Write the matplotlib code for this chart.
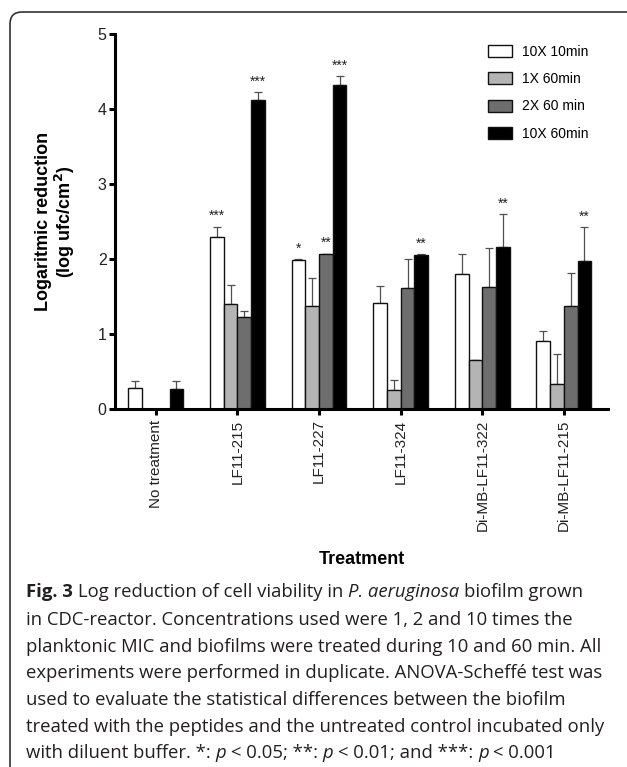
import numpy as np
import matplotlib
matplotlib.use('Agg')
import matplotlib.pyplot as plt
from matplotlib.patches import FancyBboxPatch

# data (log ufc/cm2), mean and upper sd
treatments = ['No treatment', 'LF11-215', 'LF11-227', 'LF11-324',
              'Di-MB-LF11-322', 'Di-MB-LF11-215']
series_names = ['10X 10min', '1X 60min', '2X 60 min', '10X 60min']

mean_10x10 = [0.28, 2.29, 1.99, 1.41, 1.80, 0.91]
sd_10x10 = [0.10, 0.14, 0.01, 0.23, 0.27, 0.13]
mean_1x60 = [np.nan, 1.40, 1.38, 0.26, 0.65, 0.33]
sd_1x60 = [np.nan, 0.25, 0.37, 0.13, 0.01, 0.41]
mean_2x60 = [np.nan, 1.23, 2.07, 1.61, 1.62, 1.37]
sd_2x60 = [np.nan, 0.07, 0.00, 0.39, 0.52, 0.44]
mean_10x60 = [0.27, 4.12, 4.32, 2.05, 2.16, 1.97]
sd_10x60 = [0.11, 0.10, 0.12, 0.01, 0.44, 0.45]

stars_10x10 = ['', '***', '*', '', '', '']
stars_1x60 = ['', '', '', '', '', '']
stars_2x60 = ['', '', '**', '', '', '']
stars_10x60 = ['', '***', '***', '**', '**', '**']

means = [mean_10x10, mean_1x60, mean_2x60, mean_10x60]
sds = [sd_10x10, sd_1x60, sd_2x60, sd_10x60]
stars = [stars_10x10, stars_1x60, stars_2x60, stars_10x60]
colors = ['white', '#b4b4b4', '#6e6e6e', 'black']

plt.rcParams['font.family'] = ['Liberation Sans', 'DejaVu Sans']

W, H = 627, 767
fig = plt.figure(figsize=(W / 100, H / 100), dpi=100)
ax = fig.add_axes([115 / W, 1 - 409 / H, (608 - 115) / W, (409 - 34) / H])

x = np.arange(len(treatments))
w = 0.168
for i in range(4):
    pos = x + (i - 1.5) * w
    m = np.array(means[i], dtype=float)
    s = np.array(sds[i], dtype=float)
    ok = np.isfinite(m)
    ax.bar(pos[ok], m[ok], width=w, color=colors[i], edgecolor='#111111',
           linewidth=1.0, label=series_names[i], zorder=2)
    ax.errorbar(pos[ok], m[ok], yerr=[np.zeros(ok.sum()), s[ok]], fmt='none',
                ecolor='#505050', elinewidth=0.9, capsize=3, capthick=0.9,
                zorder=1)
    for j in range(len(treatments)):
        if stars[i][j]:
            ax.annotate(stars[i][j], (pos[j], m[j] + s[j]), xytext=(0, 2.5),
                        textcoords='offset points', ha='center', va='bottom',
                        fontsize=10, color='#222222')

ax.set_xlim(-0.5, 5.54)
ax.set_ylim(0, 5)
ax.set_yticks([0, 1, 2, 3, 4, 5])
ax.set_xticks(x)
ax.set_xticklabels(treatments, rotation=90, fontsize=11, color='#222222')
ax.tick_params(axis='y', labelsize=11.5, labelcolor='#222222', pad=2)
ax.tick_params(width=2.2, length=4, direction='out')
for side in ['top', 'right']:
    ax.spines[side].set_visible(False)
for side in ['left', 'bottom']:
    ax.spines[side].set_linewidth(2.2)

ax.set_ylabel('Logaritmic reduction\n(log ufc/cm$^\\mathbf{2}$)', fontsize=13,
              fontweight='bold', linespacing=1.1, va='center')
ax.yaxis.set_label_coords((56 - 115) / 493, 0.5)
ax.set_xlabel('Treatment', fontsize=13, fontweight='bold', va='center')
ax.xaxis.set_label_coords(0.5, (409 - 559) / 375)

ax.legend(loc='upper left', bbox_to_anchor=(488 / W, 1 - 45 / H),
          bbox_transform=fig.transFigure, frameon=False, fontsize=10,
          borderpad=0, borderaxespad=0, handlelength=1.73, handleheight=0.94,
          handletextpad=0.72, labelspacing=0.95)

# rounded frame around figure + caption
frame = FancyBboxPatch((10 / 100, -0.3), (640 - 10) / 100, (767 - 12) / 100 + 0.3,
                       boxstyle='round,pad=0,rounding_size=0.12',
                       transform=fig.dpi_scale_trans, facecolor='none',
                       edgecolor='#333333', linewidth=1.2)
fig.patches.append(frame)

cap_font = 'Open Sans'
cap_lines = [
    [('Fig. 3', 'bold', 'normal'), (' Log reduction of cell viability in ', 'normal', 'normal'),
     ('P. aeruginosa', 'normal', 'italic'), (' biofilm grown', 'normal', 'normal')],
    [('in CDC-reactor. Concentrations used were 1, 2 and 10 times the', 'normal', 'normal')],
    [('planktonic MIC and biofilms were treated during 10 and 60 min. All', 'normal', 'normal')],
    [('experiments were performed in duplicate. ANOVA-Scheffé test was', 'normal', 'normal')],
    [('used to evaluate the statistical differences between the biofilm', 'normal', 'normal')],
    [('treated with the peptides and the untreated control incubated only', 'normal', 'normal')],
    [('with diluent buffer. *: ', 'normal', 'normal'), ('p', 'normal', 'italic'),
     (' < 0.05; **: ', 'normal', 'normal'), ('p', 'normal', 'italic'),
     (' < 0.01; and ***: ', 'normal', 'normal'), ('p', 'normal', 'italic'),
     (' < 0.001', 'normal', 'normal')],
]
cap_y = [592, 620, 647, 673, 700, 727, 753]

renderer = fig.canvas.get_renderer()


def text_w(s, size, weight='normal', style='normal'):
    t = fig.text(0, 0, s, fontsize=size, family=cap_font, fontweight=weight,
                 fontstyle=style)
    wd = t.get_window_extent(renderer).width
    t.remove()
    return wd


# fit caption size to the widest line (26..600 px)
ref = cap_lines[2][0][0]
cap_size = 10 * 574 / text_w(ref, 10)
space_w = text_w('a a', cap_size) - text_w('aa', cap_size)

for line, yc in zip(cap_lines, cap_y):
    xp = 26
    for s, weight, style in line:
        core = s.strip(' ')
        lead = len(s) - len(s.lstrip(' '))
        trail = len(s) - len(s.rstrip(' '))
        xp += lead * space_w
        fig.text(xp / W, 1 - yc / H, core, fontsize=cap_size, family=cap_font,
                 fontweight=weight, fontstyle=style, va='center', ha='left',
                 color='#231f20')
        xp += text_w(core, cap_size, weight, style) + trail * space_w

fig.savefig('out.png', dpi=100)
